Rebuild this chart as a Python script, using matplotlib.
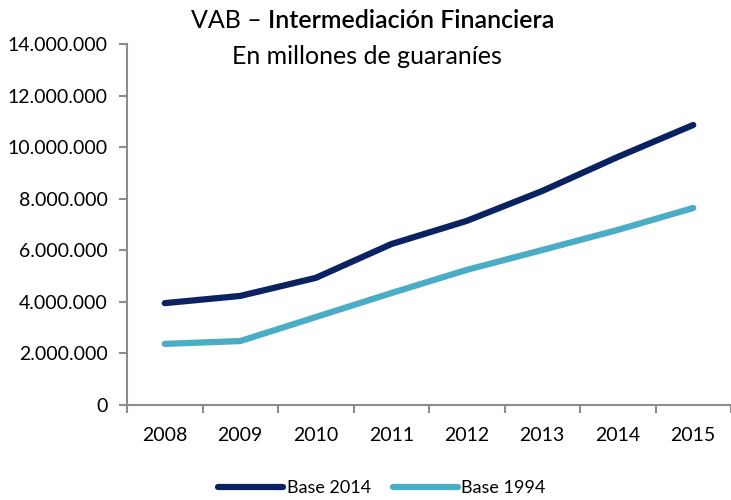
import matplotlib.pyplot as plt
from matplotlib.ticker import FuncFormatter

years = ['2008', '2009', '2010', '2011', '2012', '2013', '2014', '2015']
base_2014 = [3950000, 4230000, 4930000, 6240000, 7140000, 8300000, 9620000, 10860000]
base_1994 = [2370000, 2480000, 3410000, 4340000, 5240000, 6010000, 6790000, 7640000]
series_names = ['Base 2014', 'Base 1994']

dark = '#0b2262'
light = '#4bacc6'
axis_grey = '#8c8c8c'
font = 'Lato'

fig = plt.figure(figsize=(7.31, 5), dpi=100)
ax = fig.add_axes([127 / 731, 0.19, 1 - 127 / 731, 0.722])

x = range(len(years))
ax.plot(x, base_2014, color=dark, lw=4.5, solid_capstyle='round', solid_joinstyle='round', label=series_names[0])
ax.plot(x, base_1994, color=light, lw=4.5, solid_capstyle='round', solid_joinstyle='round', label=series_names[1])

ax.set_xlim(-0.5, len(years) - 0.5)
ax.set_ylim(0, 14000000)
ax.set_yticks(range(0, 14000001, 2000000))
ax.yaxis.set_major_formatter(FuncFormatter(lambda v, p: f'{int(v):,}'.replace(',', '.')))

# category axis: ticks between categories, labels centred
ax.set_xticks([i - 0.5 for i in range(len(years) + 1)])
ax.set_xticklabels([])
ax.set_xticks(list(x), minor=True)
ax.set_xticklabels(years, minor=True, fontsize=14, family=font)
ax.tick_params(axis='x', which='minor', length=0, pad=16)
ax.tick_params(axis='x', which='major', length=6, color=axis_grey, width=1.5)
ax.tick_params(axis='y', length=6, color=axis_grey, width=1.5, labelsize=14, pad=8)
for lab in ax.get_yticklabels():
    lab.set_family(font)

for s in ['top', 'right']:
    ax.spines[s].set_visible(False)
for s in ['left', 'bottom']:
    ax.spines[s].set_color(axis_grey)
    ax.spines[s].set_linewidth(1.5)

# title with mixed weights
fig.text(268 / 731, 1 - 20 / 500, 'VAB – ', ha='right', va='center', fontsize=18, family=font)
fig.text(268 / 731, 1 - 20 / 500, 'Intermediación Financiera', ha='left', va='center',
         fontsize=18, family=font, weight='semibold')
fig.text(367 / 731, 1 - 57 / 500, 'En millones de guaraníes', ha='center', va='center',
         fontsize=18, family=font)

leg = fig.legend(loc='center', bbox_to_anchor=(382 / 731, 1 - 488 / 500), ncol=2, frameon=False,
                 prop={'family': font, 'size': 13}, handlelength=3.6, handletextpad=0.2,
                 columnspacing=1.2)

fig.savefig('out.png', dpi=100, facecolor='white')
